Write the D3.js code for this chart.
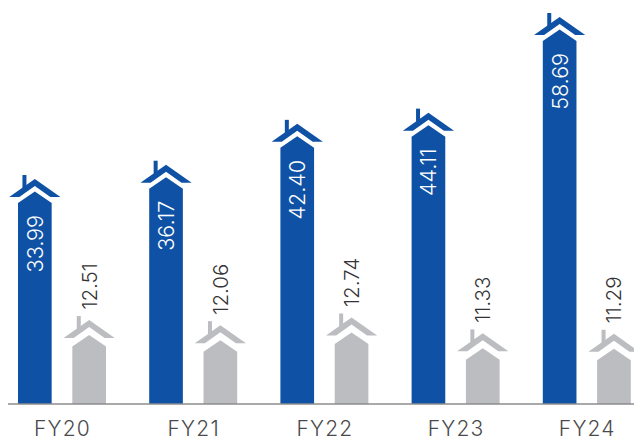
<!DOCTYPE html>
<html>
<head>
<meta charset="utf-8">
<script src="https://cdn.jsdelivr.net/npm/d3@7"></script>
<style>
  html, body { margin: 0; padding: 0; background: #fff; }
  text { font-family: Inter, sans-serif; font-weight: 300; }
</style>
</head>
<body>
<div id="chart"></div>
<script>
const years = ["FY20", "FY21", "FY22", "FY23", "FY24"];
const seriesNames = ["blue", "grey"];
const blueValues = [33.99, 36.17, 42.4, 44.11, 58.69];
const greyValues = [12.51, 12.06, 12.74, 11.33, 11.29];

const width = 634;
const height = 441;
const baseline = 404;
const blueColor = "#0f52a5";
const greyColor = "#bcbdc0";

const svg = d3
  .select("#chart")
  .append("svg")
  .attr("width", width)
  .attr("height", height)
  .style("display", "block");

const xYear = d3.scaleBand().domain(years).range([18, 18 + 131.2 * 5]);
const xSeries = d3.scaleBand().domain(seriesNames).range([0, 88]).paddingInner(0.38);

// the two series are not drawn to the same scale in the original
const yBlue = d3.scaleLinear().domain([3.35, 58.69]).range([baseline, 41]);
const yGrey = d3.scaleLinear().domain([7.41, 12.74]).range([baseline, 344]);

function drawHouses(values, series, y, color, opts) {
  const w = xSeries.bandwidth();
  const houses = svg
    .selectAll(".house-" + series)
    .data(values)
    .enter()
    .append("g")
    .attr("class", "house-" + series)
    .attr("transform", (d, i) => `translate(${xYear(years[i]) + xSeries(series)},0)`);

  // body with pointed top
  houses
    .append("path")
    .attr("fill", color)
    .attr("d", (d) => {
      const top = y(d);
      return `M0 ${baseline} V${top} L${w / 2} ${top - 11.5} L${w} ${top} V${baseline} Z`;
    });

  // roof
  houses
    .append("path")
    .attr("fill", color)
    .attr("d", (d) => {
      const a = y(d) - opts.roofLift;
      const c = w / 2;
      return `M${c} ${a} L${c + 25.6} ${a + 18} H${c + 15.5} L${c} ${a + 7} L${c - 15.5} ${a + 18} H${c - 25.6} Z`;
    });

  // chimney
  houses
    .append("rect")
    .attr("x", w / 2 - 12.4)
    .attr("y", (d) => y(d) - opts.roofLift - 4)
    .attr("width", 4)
    .attr("height", 13)
    .attr("fill", color);

  // value label, rotated
  houses
    .append("text")
    .attr("transform", (d) => `translate(${w / 2 + opts.labelDx},${y(d) + opts.labelDy}) rotate(-90)`)
    .attr("text-anchor", opts.anchor)
    .attr("font-size", opts.fontSize)
    .attr("letter-spacing", opts.spacing)
    .attr("fill", opts.textColor)
    .text((d) => d.toFixed(2));
}

drawHouses(blueValues, "blue", yBlue, blueColor, {
  roofLift: 24,
  labelDx: 8,
  labelDy: 12,
  anchor: "end",
  fontSize: 21.5,
  spacing: 0,
  textColor: "#ffffff",
});

drawHouses(greyValues, "grey", yGrey, greyColor, {
  roofLift: 26.5,
  labelDx: 7.5,
  labelDy: -37,
  anchor: "start",
  fontSize: 20.5,
  spacing: 0,
  textColor: "#333335",
});

// x axis
const xAxisScale = d3
  .scalePoint()
  .domain(years)
  .range([62, 62 + 131.2 * 4]);

const axis = svg
  .append("g")
  .attr("transform", `translate(0,${baseline})`)
  .call(d3.axisBottom(xAxisScale).tickSize(0).tickPadding(17));

axis.select(".domain").remove();
axis
  .selectAll("text")
  .attr("font-size", 21)
  .attr("letter-spacing", 1.2)
  .attr("fill", "#4a4a4c")
  .style("font-family", "Inter, sans-serif");

axis
  .append("line")
  .attr("x1", 8)
  .attr("x2", width)
  .attr("stroke", "#8c8c8e")
  .attr("stroke-width", 1.5);
</script>
</body>
</html>
